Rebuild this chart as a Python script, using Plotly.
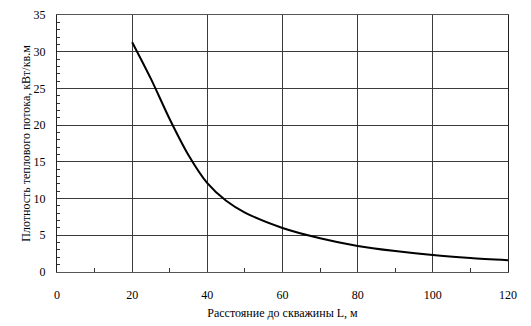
import plotly.graph_objects as go

distance_m = [20, 25, 30, 35, 40, 45, 50, 60, 70, 80, 90, 100, 110, 120]
heat_flux = [31.3, 26.3, 20.8, 15.9, 12.1, 9.7, 8.1, 6.0, 4.6, 3.55, 2.85, 2.3, 1.9, 1.6]

x_title = "Расстояние до скважины L, м"
y_title = "Плотность теплового потока, кВт/кв.м"

font_family = "Liberation Serif, Times New Roman, serif"

fig = go.Figure()
fig.add_trace(go.Scatter(
    x=distance_m, y=heat_flux, mode="lines",
    line=dict(color="black", width=2, shape="spline", smoothing=0.8),
    showlegend=False, hoverinfo="skip",
))

fig.update_layout(
    width=531, height=326,
    margin=dict(l=57, r=23, t=15, b=54),
    paper_bgcolor="white", plot_bgcolor="white",
    font=dict(family=font_family, size=12, color="black"),
)
fig.update_xaxes(
    range=[0, 120], dtick=20, tick0=0, automargin=False,
    showgrid=True, gridcolor="#3a3a3a", gridwidth=1,
    showline=True, linecolor="#555", linewidth=1, mirror=True,
    ticks="", ticklabelstandoff=12,
    minor=dict(dtick=10, ticks="inside", ticklen=4, tickcolor="#333", showgrid=False),
    zeroline=False,
    title=dict(text=x_title, font=dict(size=12), standoff=7),
)
fig.update_yaxes(
    range=[0, 35], dtick=5, tick0=0, automargin=False,
    showgrid=True, gridcolor="#3a3a3a", gridwidth=1,
    showline=True, linecolor="#222", linewidth=1, mirror=True,
    ticks="", ticklabelstandoff=8,
    minor=dict(dtick=1, ticks="inside", ticklen=3, tickcolor="#333", showgrid=False),
    zeroline=False,
    title=dict(text=y_title, font=dict(size=12), standoff=0),
)

fig.write_html("out.html")
